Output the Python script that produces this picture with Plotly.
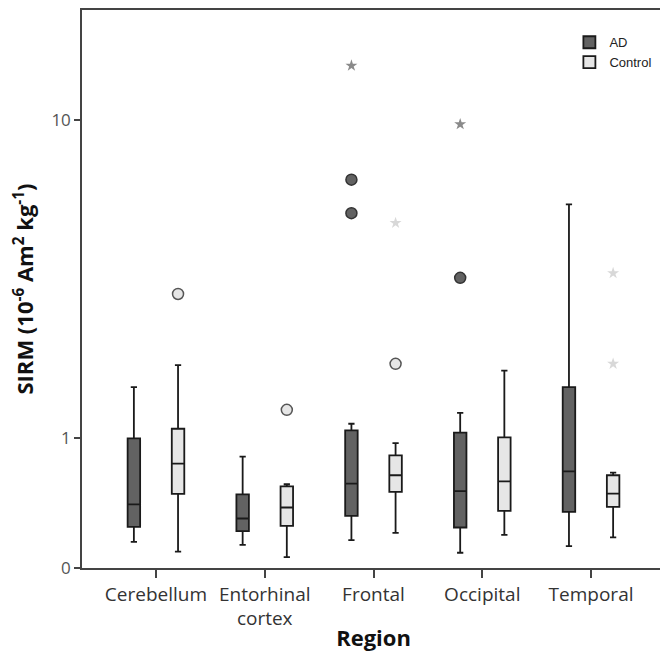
import numpy as np
import plotly.graph_objects as go

# SIRM box plot, AD vs Control, by brain region
regions = ["Cerebellum", "Entorhinal cortex", "Frontal", "Occipital", "Temporal"]
region_labels = ["Cerebellum", "Entorhinal<br>cortex", "Frontal", "Occipital", "Temporal"]

# box statistics (10^-6 Am2 kg-1)
ad_q1 = [0.246, 0.218, 0.321, 0.242, 0.350]
ad_median = [0.406, 0.303, 0.571, 0.508, 0.677]
ad_q3 = [1.00, 0.483, 1.087, 1.062, 1.630]
ad_low = [0.150, 0.132, 0.161, 0.085, 0.124]
ad_high = [1.63, 0.814, 1.163, 1.293, 5.99]

ctrl_q1 = [0.486, 0.253, 0.502, 0.357, 0.386]
ctrl_median = [0.747, 0.382, 0.642, 0.590, 0.489]
ctrl_q3 = [1.106, 0.548, 0.826, 1.011, 0.642]
ctrl_low = [0.091, 0.060, 0.207, 0.194, 0.178]
ctrl_high = [1.96, 0.565, 0.950, 1.873, 0.665]

# outliers (circles) and extremes (stars)
ad_out_region = ["Frontal", "Frontal", "Occipital"]
ad_out_value = [6.98, 5.67, 3.72]
ad_ext_region = ["Frontal", "Occipital"]
ad_ext_value = [13.68, 9.73]
ctrl_out_region = ["Cerebellum", "Entorhinal cortex", "Frontal"]
ctrl_out_value = [3.33, 1.33, 1.98]
ctrl_ext_region = ["Frontal", "Temporal", "Temporal"]
ctrl_ext_value = [5.33, 3.84, 1.98]

# the axis is log10(1 + SIRM); labels show SIRM
ytick_values = [0, 1, 10]


def shift(v):
    return list(np.asarray(v, dtype=float) + 1.0)


AD_FILL = "rgb(98,98,98)"
CTRL_FILL = "rgb(230,230,230)"

fig = go.Figure()

fig.add_trace(go.Box(
    name="AD", x=regions, offsetgroup="AD",
    q1=shift(ad_q1), median=shift(ad_median), q3=shift(ad_q3),
    lowerfence=shift(ad_low), upperfence=shift(ad_high),
    fillcolor=AD_FILL, line=dict(color="#1a1a1a", width=1.8),
    whiskerwidth=0.5,
))
fig.add_trace(go.Box(
    name="Control", x=regions, offsetgroup="Control",
    q1=shift(ctrl_q1), median=shift(ctrl_median), q3=shift(ctrl_q3),
    lowerfence=shift(ctrl_low), upperfence=shift(ctrl_high),
    fillcolor=CTRL_FILL, line=dict(color="#1a1a1a", width=1.8),
    whiskerwidth=0.5,
))

fig.add_trace(go.Scatter(
    x=ad_out_region, y=shift(ad_out_value), mode="markers",
    offsetgroup="AD", showlegend=False, hoverinfo="y",
    marker=dict(symbol="circle", size=11, color=AD_FILL,
                line=dict(color="#333333", width=1.5)),
))
fig.add_trace(go.Scatter(
    x=ad_ext_region, y=shift(ad_ext_value), mode="markers",
    offsetgroup="AD", showlegend=False, hoverinfo="y",
    marker=dict(symbol="star", size=9, color="#8a8a8a", line=dict(width=0)),
))
fig.add_trace(go.Scatter(
    x=ctrl_out_region, y=shift(ctrl_out_value), mode="markers",
    offsetgroup="Control", showlegend=False, hoverinfo="y",
    marker=dict(symbol="circle", size=11, color=CTRL_FILL,
                line=dict(color="#555555", width=1.5)),
))
fig.add_trace(go.Scatter(
    x=ctrl_ext_region, y=shift(ctrl_ext_value), mode="markers",
    offsetgroup="Control", showlegend=False, hoverinfo="y",
    marker=dict(symbol="star", size=9, color="#d8d8d8", line=dict(width=0)),
))

# page body has an 8px margin, so the figure is 8px smaller than the window
fig.update_layout(
    width=660, height=652,
    margin=dict(l=74, r=3, t=0, b=92),
    paper_bgcolor="white", plot_bgcolor="white",
    boxmode="group", boxgap=0.188, boxgroupgap=0.717,
    scattermode="group", scattergap=0.188,
    font=dict(family="Open Sans", color="#333333"),
    legend=dict(x=0.836, y=0.969, xanchor="left", yanchor="top",
                font=dict(family="Liberation Sans", size=13, color="#222222"),
                bgcolor="rgba(0,0,0,0)", itemwidth=30, tracegroupgap=0),
)

fig.update_xaxes(
    type="category", categoryorder="array", categoryarray=regions,
    tickvals=regions, ticktext=region_labels,
    range=[-0.68, 4.68],
    showline=True, linecolor="#444444", linewidth=1.5, mirror=True,
    ticks="outside", ticklen=8, tickwidth=1.5, tickcolor="#444444",
    tickfont=dict(size=19, color="#333333"),
    title=dict(text="<b>Region</b>", font=dict(size=22, color="#111111"), standoff=0),
    showgrid=False, zeroline=False,
)
fig.update_yaxes(
    type="log", range=[0, 1.296],
    tickvals=shift(ytick_values), ticktext=[str(v) for v in ytick_values],
    showline=True, linecolor="#444444", linewidth=1.5, mirror=True,
    ticks="outside", ticklen=6, tickwidth=1.5, tickcolor="#444444",
    tickfont=dict(size=17, color="#555555"),
    title=dict(text="<b>SIRM (10<sup>-6</sup> Am<sup>2</sup> kg<sup>-1</sup>)</b>",
               font=dict(size=22, color="#111111"), standoff=20),
    showgrid=False, zeroline=False,
)

fig.write_html("out.html")
